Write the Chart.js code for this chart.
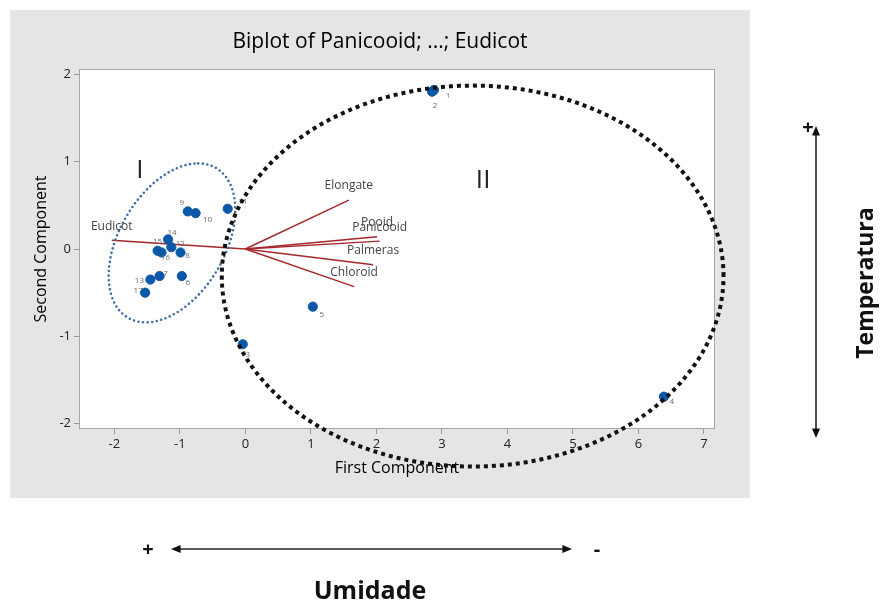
<!DOCTYPE html>
<html>
<head>
<meta charset="utf-8">
<script src="https://cdn.jsdelivr.net/npm/chart.js@4"></script>
<style>
  body { margin: 0; background: #fff; }
  #wrap { width: 882px; height: 608px; position: relative; }
</style>
</head>
<body>
<div id="wrap"><canvas id="biplot"></canvas></div>
<script>
// observations (scores on first / second component)
const obsLabels = ['1','2','3','4','5','6','7','8','9','10','11','12','13','14','15','16','17'];
const pc1Scores = [2.88, 2.85, -0.04, 6.39, 1.03, -0.97, -1.31, -0.99, -0.88, -0.76, -0.27, -1.13, -1.45, -1.18, -1.34, -1.28, -1.53];
const pc2Scores = [1.82, 1.80, -1.09, -1.69, -0.66, -0.31, -0.31, -0.04, 0.43, 0.41, 0.46, 0.02, -0.35, 0.11, -0.02, -0.04, -0.50];

// variable loadings
const varNames = ['Eudicot', 'Elongate', 'Pooid', 'Panicooid', 'Palmeras', 'Chloroid'];
const loadPc1 = [-2.04, 1.58, 2.01, 2.05, 1.95, 1.66];
const loadPc2 = [0.10, 0.56, 0.14, 0.09, -0.18, -0.43];

const xTicks = [-2, -1, 0, 1, 2, 3, 4, 5, 6, 7];
const yTicks = [-2, -1, 0, 1, 2];

// group ellipses drawn over the plot: center + two conjugate half-axes, in data units
const groupI = { cx: -1.12, cy: 0.07, ux: 0.40, uy: 0.91, vx: 0.88, vy: 0 };
const groupII = { cx: 3.47, cy: -0.31, ux: 3.83, uy: 0, vx: 0, vy: 2.18 };

const FONT = '"Open Sans", "Noto Sans", sans-serif';

// little nudges for the observation numbers (pixels)
const numOffsets = {
  '1': [14, 6], '2': [3, 14], '3': [5, 10], '4': [8, 5], '5': [9, 8], '6': [6, 7],
  '7': [6, -2], '8': [7, 3], '9': [-6, -9], '10': [12, 7], '11': [15, -7], '12': [9, -4],
  '13': [-11, 1], '14': [4, -7], '15': [0, -9], '16': [4, 5], '17': [-7, -2]
};

function strokeEllipse(ctx, xs, ys, e) {
  ctx.beginPath();
  for (let i = 0; i <= 360; i++) {
    const t = i * Math.PI / 180;
    const dx = e.cx + e.ux * Math.cos(t) + e.vx * Math.sin(t);
    const dy = e.cy + e.uy * Math.cos(t) + e.vy * Math.sin(t);
    const px = xs.getPixelForValue(dx), py = ys.getPixelForValue(dy);
    if (i === 0) ctx.moveTo(px, py); else ctx.lineTo(px, py);
  }
  ctx.stroke();
}

function arrowHead(ctx, x, y, dir) {
  // dir: 'up','down','left','right'
  const s = 6, w = 4;
  ctx.beginPath();
  if (dir === 'up') { ctx.moveTo(x, y); ctx.lineTo(x - w, y + s * 1.6); ctx.lineTo(x + w, y + s * 1.6); }
  if (dir === 'down') { ctx.moveTo(x, y); ctx.lineTo(x - w, y - s * 1.6); ctx.lineTo(x + w, y - s * 1.6); }
  if (dir === 'left') { ctx.moveTo(x, y); ctx.lineTo(x + s * 1.6, y - w); ctx.lineTo(x + s * 1.6, y + w); }
  if (dir === 'right') { ctx.moveTo(x, y); ctx.lineTo(x - s * 1.6, y - w); ctx.lineTo(x - s * 1.6, y + w); }
  ctx.closePath();
  ctx.fill();
}

const decor = {
  id: 'decor',
  beforeDraw(chart) {
    const { ctx, chartArea: a } = chart;
    ctx.save();
    ctx.fillStyle = '#ffffff';
    ctx.fillRect(0, 0, chart.width, chart.height);
    ctx.fillStyle = '#e5e5e5';
    ctx.fillRect(10, 10, 740, 488);
    ctx.fillStyle = '#ffffff';
    ctx.fillRect(a.left, a.top, a.right - a.left, a.bottom - a.top);
    ctx.restore();
  },
  afterDatasetsDraw(chart) {
    const { ctx, chartArea: a } = chart;
    const xs = chart.scales.x, ys = chart.scales.y;
    ctx.save();
    ctx.strokeStyle = '#a6a6a6';
    ctx.lineWidth = 1;
    ctx.strokeRect(a.left + 0.5, a.top + 0.5, a.right - a.left - 1, a.bottom - a.top - 1);

    // observation numbers
    ctx.fillStyle = '#6b6b6b';
    ctx.font = '8px ' + FONT;
    ctx.textAlign = 'center';
    ctx.textBaseline = 'middle';
    obsLabels.forEach((lab, i) => {
      const o = numOffsets[lab];
      ctx.fillText(lab, xs.getPixelForValue(pc1Scores[i]) + o[0], ys.getPixelForValue(pc2Scores[i]) + o[1]);
    });

    // variable names above the vector tips
    ctx.fillStyle = '#444';
    ctx.font = '12px ' + FONT;
    varNames.forEach((name, i) => {
      ctx.fillText(name, xs.getPixelForValue(loadPc1[i]), ys.getPixelForValue(loadPc2[i]) - 14);
    });

    // group I: small blue dots
    ctx.strokeStyle = '#3f6ea6';
    ctx.lineWidth = 2.6;
    ctx.lineCap = 'round';
    ctx.setLineDash([0, 4.6]);
    strokeEllipse(ctx, xs, ys, groupI);

    // group II: heavy black square dots
    ctx.strokeStyle = '#111';
    ctx.lineWidth = 4;
    ctx.lineCap = 'butt';
    ctx.setLineDash([4, 4]);
    strokeEllipse(ctx, xs, ys, groupII);
    ctx.setLineDash([]);

    ctx.fillStyle = '#222';
    ctx.font = '26px ' + FONT;
    ctx.fillText('I', xs.getPixelForValue(-1.61), ys.getPixelForValue(0.90));
    ctx.fillText('II', xs.getPixelForValue(3.63), ys.getPixelForValue(0.78));
    ctx.restore();
  },
  afterDraw(chart) {
    const { ctx } = chart;
    ctx.save();
    ctx.strokeStyle = '#222';
    ctx.fillStyle = '#111';
    ctx.lineWidth = 1.6;

    // Temperatura axis
    ctx.beginPath();
    ctx.moveTo(816, 134); ctx.lineTo(816, 436);
    ctx.stroke();
    arrowHead(ctx, 816, 126, 'up');
    arrowHead(ctx, 816, 438, 'down');

    // Umidade axis
    ctx.beginPath();
    ctx.moveTo(176, 549); ctx.lineTo(566, 549);
    ctx.stroke();
    arrowHead(ctx, 171, 549, 'left');
    arrowHead(ctx, 572, 549, 'right');

    ctx.textAlign = 'center';
    ctx.textBaseline = 'middle';
    ctx.font = 'bold 20px ' + FONT;
    ctx.fillText('+', 808, 128);
    ctx.fillText('+', 148, 550);
    ctx.fillText('-', 597, 550);

    ctx.font = 'bold 25px ' + FONT;
    ctx.fillText('Umidade', 370, 592);
    ctx.font = 'bold 23px ' + FONT;
    ctx.translate(866, 283);
    ctx.rotate(-Math.PI / 2);
    ctx.fillText('Temperatura', 0, 0);
    ctx.restore();
  }
};

const pointData = pc1Scores.map((x, i) => ({ x: x, y: pc2Scores[i] }));
const vectorSets = varNames.map((name, i) => ({
  label: name,
  data: [{ x: 0, y: 0 }, { x: loadPc1[i], y: loadPc2[i] }],
  showLine: true,
  borderColor: '#a5282c',
  borderWidth: 1.4,
  pointRadius: 0,
  order: 2
}));

new Chart(document.getElementById('biplot'), {
  type: 'scatter',
  data: {
    datasets: [
      {
        label: 'Observations',
        data: pointData,
        backgroundColor: '#0b57a8',
        borderColor: '#0b57a8',
        pointRadius: 4.6,
        order: 1
      },
      ...vectorSets
    ]
  },
  options: {
    responsive: true,
    maintainAspectRatio: false,
    animation: false,
    // left padding chosen so the chart title centres where the reference has it
    layout: { padding: { left: 45, right: 167, top: 10, bottom: 124 } },
    plugins: {
      legend: { display: false },
      tooltip: { enabled: false },
      title: {
        display: true,
        text: 'Biplot of Panicooid; ...; Eudicot',
        color: '#000',
        font: { family: FONT, size: 21, weight: 'normal', lineHeight: 1.2 },
        padding: { top: 19.4, bottom: 14.4 }
      }
    },
    scales: {
      x: {
        type: 'linear',
        min: -2.54,
        max: 7.17,
        afterBuildTicks: s => { s.ticks = xTicks.map(v => ({ value: v })); },
        afterFit: s => { s.height = 55; },
        grid: { drawOnChartArea: false, drawTicks: true, tickLength: 5, color: '#999' },
        border: { display: false },
        ticks: { color: '#222', padding: 2, font: { family: FONT, size: 13 } },
        title: { display: true, text: 'First Component', color: '#000', padding: { bottom: 6 },
                 font: { family: FONT, size: 16, lineHeight: 1.2 } }
      },
      y: {
        type: 'linear',
        min: -2.06,
        max: 2.06,
        afterBuildTicks: s => { s.ticks = yTicks.map(v => ({ value: v })); },
        afterFit: s => { s.width = 34; },
        grid: { drawOnChartArea: false, drawTicks: true, tickLength: 5, color: '#999' },
        border: { display: false },
        ticks: { color: '#222', padding: 3, font: { family: FONT, size: 13 } },
        title: { display: true, text: 'Second Component', color: '#000', padding: { top: -13 },
                 font: { family: FONT, size: 16, lineHeight: 1.2 } }
      }
    }
  },
  plugins: [decor]
});
</script>
</body>
</html>
